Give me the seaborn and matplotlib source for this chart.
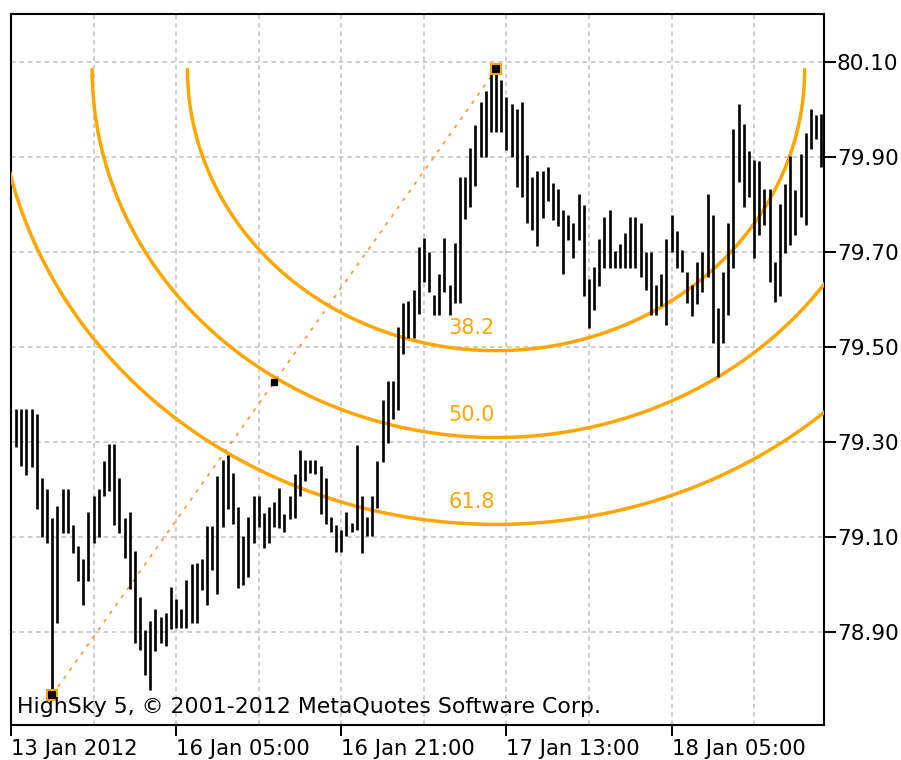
import numpy as np
import matplotlib
matplotlib.use("Agg")
import matplotlib.pyplot as plt
import seaborn as sns

# =====================================
# Data (M30 bars, high / low)
# =====================================

highs = [
    79.370, 79.370, 79.370, 79.370, 79.360, 79.224, 79.202, 79.141, 79.165, 79.202,
    79.202, 79.126, 79.082, 79.054, 79.153, 79.186, 79.202, 79.261, 79.296, 79.296,
    79.224, 79.141, 79.153, 79.071, 78.974, 78.905, 78.924, 78.950, 78.933, 78.940,
    78.995, 78.971, 78.950, 79.010, 79.043, 79.045, 79.054, 79.124, 79.124, 79.230,
    79.263, 79.273, 79.235, 79.163, 79.103, 79.142, 79.186, 79.186, 79.152, 79.163,
    79.175, 79.203, 79.150, 79.186, 79.233, 79.284, 79.263, 79.263, 79.263, 79.250,
    79.224, 79.143, 79.126, 79.115, 79.154, 79.131, 79.294, 79.186, 79.142, 79.186,
    79.261, 79.390, 79.430, 79.430, 79.543, 79.594, 79.598, 79.621, 79.712, 79.731,
    79.701, 79.610, 79.654, 79.731, 79.631, 79.719, 79.859, 79.859, 79.920, 79.969,
    80.017, 80.040, 80.087, 80.091, 80.063, 80.028, 80.012, 80.002, 80.017, 79.905,
    79.859, 79.871, 79.871, 79.880, 79.845, 79.833, 79.789, 79.779, 79.762, 79.823,
    79.800, 79.643, 79.670, 79.729, 79.774, 79.789, 79.703, 79.718, 79.740, 79.774,
    79.774, 79.762, 79.701, 79.701, 79.631, 79.654, 79.729, 79.779, 79.744, 79.705,
    79.659, 79.631, 79.680, 79.701, 79.823, 79.779, 79.582, 79.659, 79.762, 79.959,
    80.012, 79.970, 79.914, 79.894, 79.893, 79.833, 79.833, 79.680, 79.802, 79.844,
    79.903, 79.831, 79.908, 79.952, 80.001, 79.989, 79.991,
]

lows = [
    79.291, 79.250, 79.231, 79.247, 79.160, 79.100, 79.089, 78.768, 78.919, 79.110,
    79.110, 79.066, 79.007, 78.958, 79.007, 79.089, 79.101, 79.186, 79.198, 79.126,
    79.110, 79.056, 78.991, 78.877, 78.863, 78.810, 78.779, 78.861, 78.877, 78.871,
    78.907, 78.908, 78.908, 78.908, 78.920, 78.920, 78.989, 78.957, 79.031, 78.980,
    79.121, 79.159, 79.128, 78.993, 78.999, 79.017, 79.089, 79.122, 79.078, 79.089,
    79.122, 79.120, 79.112, 79.138, 79.140, 79.187, 79.219, 79.236, 79.234, 79.150,
    79.129, 79.112, 79.070, 79.068, 79.103, 79.112, 79.115, 79.066, 79.103, 79.103,
    79.161, 79.259, 79.298, 79.350, 79.368, 79.486, 79.519, 79.519, 79.570, 79.638,
    79.616, 79.568, 79.568, 79.617, 79.568, 79.593, 79.593, 79.770, 79.796, 79.840,
    79.901, 79.901, 79.954, 79.954, 79.954, 79.915, 79.901, 79.838, 79.817, 79.761,
    79.747, 79.714, 79.773, 79.807, 79.768, 79.755, 79.654, 79.726, 79.687, 79.726,
    79.607, 79.540, 79.579, 79.629, 79.666, 79.666, 79.666, 79.666, 79.666, 79.666,
    79.666, 79.649, 79.621, 79.568, 79.568, 79.586, 79.547, 79.701, 79.666, 79.659,
    79.594, 79.566, 79.591, 79.617, 79.647, 79.508, 79.438, 79.508, 79.568, 79.666,
    79.847, 79.796, 79.817, 79.687, 79.736, 79.758, 79.638, 79.596, 79.607, 79.699,
    79.715, 79.736, 79.775, 79.758, 79.917, 79.938, 79.879,
]

bar_index = np.arange(len(highs))

tick_bars = [-1, 31, 63, 95, 127]
tick_labels = ["13 Jan 2012", "16 Jan 05:00", "16 Jan 21:00", "17 Jan 13:00", "18 Jan 05:00"]
grid_bars = [15, 47, 79, 111, 143]
price_ticks = [78.90, 79.10, 79.30, 79.50, 79.70, 79.90, 80.10]

# Fibonacci arcs
anchor_bars = [7, 93]
anchor_prices = [78.768, 80.085]
arc_levels = [38.2, 50.0, 61.8]
arc_radius = 1.55          # 100 % radius in price units
arc_bars_per_price = 101   # chart scale of the arcs

copyright_text = "HighSky 5, \u00a9 2001-2012 MetaQuotes Software Corp."

# =====================================
# Plot
# =====================================

sns.set_style("white")
plt.rcParams['font.family'] = ['DejaVu Sans']

fig = plt.figure(figsize=(9.01, 7.60), dpi=100)
ax = fig.add_axes([11 / 901, 1 - 725 / 760, 812.5 / 901, 711 / 760])

orange = "#ffa500"

# bars
ax.vlines(bar_index, lows, highs, color="black", linewidth=1.9, zorder=4)

# arcs
cx, cy = anchor_bars[1], anchor_prices[1]
theta = np.linspace(np.pi, 2 * np.pi, 600)
for lvl in arc_levels:
    r = arc_radius * lvl / 100
    sns.lineplot(x=cx + r * arc_bars_per_price * np.cos(theta),
                 y=cy + r * np.sin(theta),
                 sort=False, estimator=None, color=orange,
                 linewidth=2.5, ax=ax, zorder=3)
    ax.annotate(f"{lvl:.1f}", xy=(cx, cy - r), xytext=(-34.5, 12),
                textcoords="offset points", ha="left", va="baseline",
                color=orange, fontsize=15, zorder=5)

# trend line with anchors
ax.plot(anchor_bars, anchor_prices, color="#ff9a30", linewidth=1.3,
        linestyle=(0, (2, 3.5)), zorder=3)
ax.plot(anchor_bars, anchor_prices, "s", markersize=7, markerfacecolor="black",
        markeredgecolor=orange, markeredgewidth=1.5, zorder=6)
ax.plot(np.mean(anchor_bars), np.mean(anchor_prices), "s", markersize=5,
        color="black", zorder=6)

# axes
ax.set_xlim(-0.94, 156.45)
ax.set_ylim(78.7048, 80.2017)

ax.set_xticks(tick_bars)
ax.set_xticklabels(tick_labels, ha="left")
ax.set_xticks(grid_bars, minor=True)
ax.set_yticks(price_ticks)
ax.set_yticklabels([f"{p:.2f}" for p in price_ticks])

ax.yaxis.tick_right()
ax.tick_params(axis="y", which="major", direction="out", length=8.6, width=1.4,
               pad=1, labelsize=15.5, colors="black")
ax.tick_params(axis="x", which="major", direction="out", length=8, width=1.4,
               pad=2, labelsize=15.2, colors="black", bottom=True)
ax.tick_params(axis="x", which="minor", length=0)

ax.grid(True, which="both", color="#c0c0c0", linestyle=(0, (3, 2.5)),
        linewidth=1.1, zorder=0)
ax.set_axisbelow(True)

for s in ax.spines.values():
    s.set_color("black")
    s.set_linewidth(1.5)

ax.set_xlabel("")
ax.set_ylabel("")

ax.text(0.0074, 0.017, copyright_text, transform=ax.transAxes,
        ha="left", va="baseline", fontsize=15.8, color="black", zorder=7)

fig.savefig("out.png", dpi=100)
